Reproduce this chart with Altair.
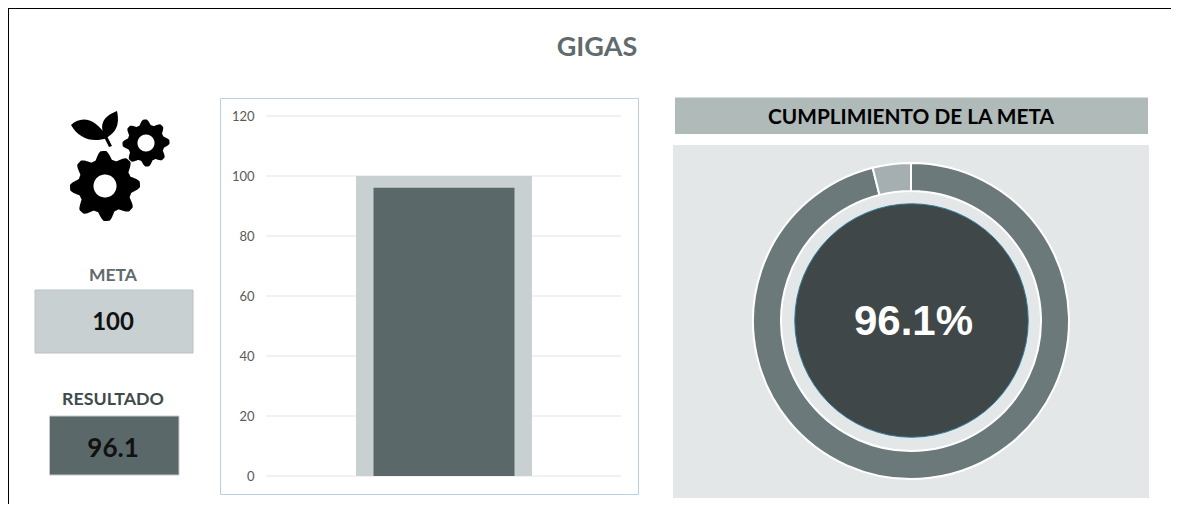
import math
import altair as alt
import pandas as pd

TITLE = "GIGAS"
META_LABEL = "META"
RESULT_LABEL = "RESULTADO"
PANEL_TITLE = "CUMPLIMIENTO DE LA META"
META = [100]
RESULT = [96.1]
DONUT_PARTS = ["Cumplido", "Restante"]
DONUT_VALUES = [96.1, 3.9]
TICKS = [0, 20, 40, 60, 80, 100, 120]
CATEGORY = ["GIGAS"]

W, H = 1163, 496
OX, OY = 8, 8


def px(v):
    return alt.value(v - OX)


def py(v):
    return alt.value(v - OY)


blank = alt.Data(values=[{}])


def box(x0, y0, x1, y1, **style):
    return alt.Chart(blank).mark_rect(**style).encode(x=px(x0), x2=px(x1), y=py(y0), y2=py(y1))


def label(s, x, y, size, color, font="Lato", weight="bold"):
    return alt.Chart(blank).mark_text(
        font=font, fontSize=size, fontWeight=weight, color=color, align="center", baseline="middle"
    ).encode(x=px(x), y=py(y), text=alt.value(s))


def gear_path(n, r_root, r_tip, r_hole, steps=360):
    pts = []
    for i in range(steps):
        t = 2 * math.pi * i / steps
        c = math.cos(n * t + math.pi / 8)
        k = max(-1.0, min(1.0, 1.25 * c))
        r = r_root + (r_tip - r_root) * (k + 1) / 2
        pts.append((r * math.cos(t), r * math.sin(t)))
    d = "M" + "L".join(f"{x:.2f},{y:.2f}" for x, y in pts) + "Z"
    hole = []
    for i in range(72):
        t = -2 * math.pi * i / 72
        hole.append((r_hole * math.cos(t), r_hole * math.sin(t)))
    d += "M" + "L".join(f"{x:.2f},{y:.2f}" for x, y in hole) + "Z"
    return d


def glyph(path, x, y):
    return alt.Chart(blank).mark_point(
        shape=path, filled=True, fill="#000000", strokeWidth=0, opacity=1, size=4
    ).encode(x=px(x), y=py(y))


LEAVES = (
    "M-34,-12 C-26,-20 -10,-22 2,1 C-12,6 -26,2 -34,-12Z"
    "M12,-26 C14,-16 14,-6 1,1 C-6,-10 -4,-20 12,-26Z"
    "M-1,0 L2,-1 L7,9 L4,10Z"
)

y_scale = alt.Scale(domain=[0, 120], range=[476 - OY, 116 - OY])
x_scale = alt.Scale(range=[267 - OX, 621 - OX], paddingInner=0, paddingOuter=0)

df_meta = pd.DataFrame({"cat": CATEGORY, "v": META})
df_res = pd.DataFrame({"cat": CATEGORY, "v": RESULT})
df_ticks = pd.DataFrame({"t": TICKS})
df_donut = pd.DataFrame({"part": DONUT_PARTS, "v": DONUT_VALUES, "i": [0, 1]})

grid = alt.Chart(df_ticks).mark_rule(color="#e3e3e3", strokeWidth=1).encode(
    y=alt.Y(
        "t:Q",
        scale=y_scale,
        axis=alt.Axis(
            values=TICKS, domain=False, ticks=False, grid=False, title=None, labelPadding=0,
            offset=-246, labelFont="Lato", labelFontSize=13, labelColor="#595959", zindex=1,
        ),
    ),
    x=px(266),
    x2=px(621),
)

bar_meta = alt.Chart(df_meta).mark_bar(size=176, color="#c9d0d2").encode(
    x=alt.X("cat:N", scale=x_scale, axis=None), y=alt.Y("v:Q", scale=y_scale)
)
bar_res = alt.Chart(df_res).mark_bar(size=141, color="#5b6869").encode(
    x=alt.X("cat:N", scale=x_scale, axis=None), y=alt.Y("v:Q", scale=y_scale)
)

ring = alt.Chart(df_donut).mark_arc(stroke="#ffffff", strokeWidth=2).encode(
    theta=alt.Theta("v:Q", stack=True, scale=alt.Scale(domain=[0, 100], range=[0, 2 * math.pi])),
    order=alt.Order("i:Q"),
    color=alt.Color("part:N", scale=alt.Scale(domain=DONUT_PARTS, range=["#6b797b", "#a5aeb0"]), legend=None),
    radius=alt.value(158),
    radius2=alt.value(130),
    x=px(911),
    y=py(321),
)

core = alt.Chart(blank).mark_circle(
    size=233.5 ** 2, fill="#3f4748", opacity=1, stroke="#2f7f9e", strokeWidth=1
).encode(x=px(911.5), y=py(320.5))

chart = alt.layer(
    box(220.5, 98.5, 638.5, 494.5, fill="transparent", stroke="#b9d0e4", strokeWidth=1),
    box(35, 290, 193, 353, fill="#c9d0d2", stroke="#bcc2c3", strokeWidth=1),
    box(49.5, 416, 179, 475, fill="#5b6869", stroke="#c4c9ca", strokeWidth=1),
    box(675, 97.5, 1148, 134, fill="#afbab9"),
    box(673, 145, 1149, 498, fill="#e4e7e8"),
    alt.Chart(blank).mark_rule(color="#000000", strokeWidth=2).encode(
        x=px(8), x2=px(1179), y=py(8)
    ),
    alt.Chart(blank).mark_rule(color="#000000", strokeWidth=2).encode(
        x=px(8), y=py(8), y2=py(512)
    ),
    grid,
    bar_meta,
    bar_res,
    ring,
    core,
    glyph(gear_path(8, 27, 35, 11.5), 105, 186),
    glyph(gear_path(8, 18.5, 23.5, 8.5), 146, 143),
    glyph(LEAVES, 105, 137),
    label(TITLE, 597, 47.5, 27, "#5f6b6d"),
    label(META_LABEL, 113, 276, 17.5, "#5f6b6d"),
    label(str(META[0]), 113, 322.5, 24, "#111111"),
    label(RESULT_LABEL, 113, 400, 17.8, "#3f4a4b"),
    label(str(RESULT[0]), 113, 448.5, 26, "#111111"),
    label(PANEL_TITLE, 911, 118, 20.8, "#000000"),
    label("96.1%", 913.5, 322, 42, "#ffffff", font="Liberation Sans"),
).properties(
    width=W, height=H, padding=0, autosize=alt.AutoSizeParams(type="none")
).configure_view(stroke=None)

chart.save("out.html", embed_options={"renderer": "svg", "actions": False})
